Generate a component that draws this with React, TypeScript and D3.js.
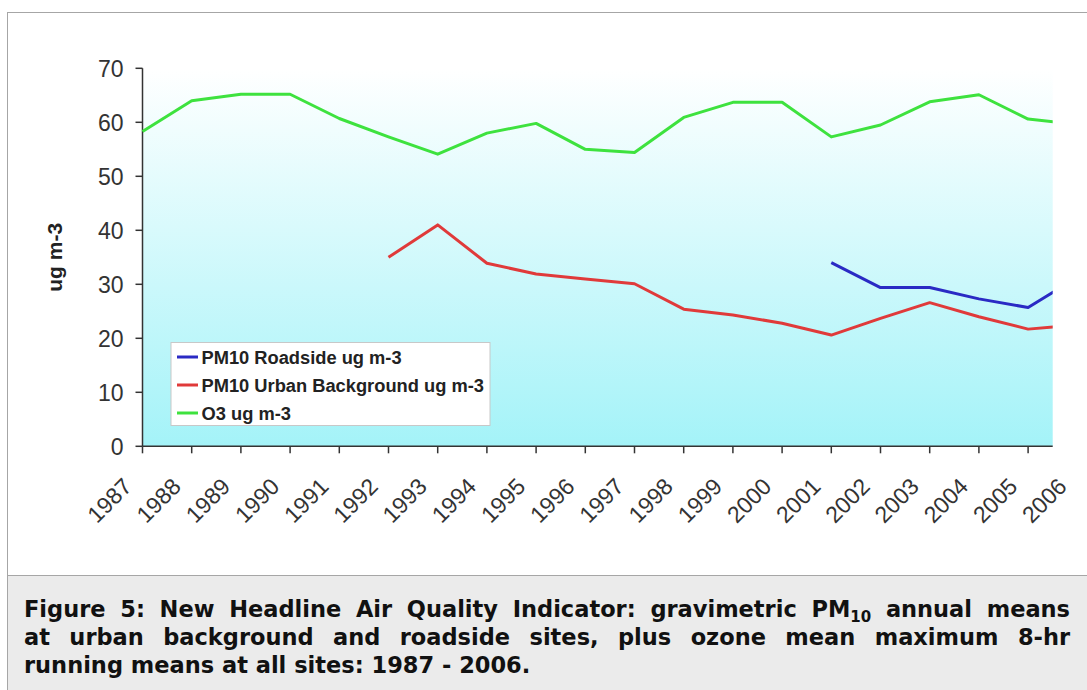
import React, { useEffect, useRef } from 'react';
import * as d3 from 'd3';

// Chart data
const YEARS = [1987, 1988, 1989, 1990, 1991, 1992, 1993, 1994, 1995, 1996, 1997, 1998, 1999, 2000, 2001, 2002, 2003, 2004, 2005, 2006];
const PM10_ROADSIDE: (number | null)[] = [null, null, null, null, null, null, null, null, null, null, null, null, null, null, 34.0, 29.4, 29.4, 27.3, 25.7, 31.3];
const PM10_URBAN: (number | null)[] = [null, null, null, null, null, 35.0, 41.0, 33.9, 31.9, 31.0, 30.1, 25.4, 24.3, 22.8, 20.6, 23.7, 26.6, 24.0, 21.7, 22.5];
const O3: (number | null)[] = [58.3, 64.0, 65.2, 65.2, 60.7, 57.3, 54.1, 58.0, 59.8, 55.0, 54.4, 60.9, 63.7, 63.7, 57.3, 59.5, 63.8, 65.1, 60.6, 59.6];
const Y_TICKS = [0, 10, 20, 30, 40, 50, 60, 70];

const SERIES = [
  { name: 'PM10 Roadside ug m-3', values: PM10_ROADSIDE, color: '#2a2ac4' },
  { name: 'PM10 Urban Background ug m-3', values: PM10_URBAN, color: '#e03a3a' },
  { name: 'O3 ug m-3', values: O3, color: '#3ee23e' },
];

const Y_LABEL = 'ug m-3';

// caption, one entry per line; "sub" parts are subscripts
const CAPTION = [
  [{ t: 'Figure 5: New Headline Air Quality Indicator: gravimetric PM' }, { t: '10', sub: true }, { t: ' annual means' }],
  [{ t: 'at urban background and roadside sites, plus ozone mean maximum 8-hr' }],
  [{ t: 'running means at all sites: 1987 - 2006.' }],
];

const W = 1087;
const H = 690;
const AXIS_FONT = '"Liberation Sans", Arial, sans-serif';
const CAPTION_FONT = '"DejaVu Sans", Verdana, sans-serif';
const CAP_LEFT = 24;
const CAP_RIGHT = 1070;

const App: React.FC = () => {
  const captionRef = useRef<SVGGElement>(null);

  const x = d3.scaleLinear().domain([1987, 2006]).range([142.5, 1077.3]);
  const y = d3.scaleLinear().domain([0, 70]).range([446.3, 68.3]);
  const clipRight = x(2005.5);

  const line = d3.line<number | null>()
    .defined(d => d != null)
    .x((_, i) => x(YEARS[i]))
    .y(d => y(d as number));

  // justify every caption line except the last one
  useEffect(() => {
    if (!captionRef.current) return;
    d3.select(captionRef.current).selectAll<SVGTextElement, unknown>('text.justify').each(function () {
      this.setAttribute('word-spacing', '0');
      const len = this.getComputedTextLength();
      const spaces = (this.textContent || '').split(' ').length - 1;
      if (spaces > 0) {
        this.setAttribute('word-spacing', String(Math.max(0, (CAP_RIGHT - CAP_LEFT - len) / spaces)));
      }
    });
  }, []);

  return (
    <svg width={W} height={H} style={{ position: 'absolute', left: 0, top: 0, background: '#fff' }}>
      <defs>
        <linearGradient id="plotBg" x1="0" y1="0" x2="0" y2="1">
          <stop offset="0" stopColor="#ffffff" />
          <stop offset="1" stopColor="#a4f3f8" />
        </linearGradient>
        <clipPath id="plotClip">
          <rect x={0} y={0} width={clipRight} height={H} />
        </clipPath>
      </defs>

      {/* outer frame */}
      <rect x={7.5} y={12.5} width={W + 10} height={H} fill="#fff" stroke="#a6a6a6" />
      <rect x={7.5} y={575.5} width={W + 10} height={H} fill="#ebebeb" stroke="#a6a6a6" />

      {/* plot area */}
      <rect x={x(1987)} y={y(70)} width={clipRight - x(1987)} height={y(0) - y(70)} fill="url(#plotBg)" />

      {/* y axis */}
      <g fontFamily={AXIS_FONT} fontSize={23} fill="#333">
        <line x1={x(1987)} x2={x(1987)} y1={y(70)} y2={y(0)} stroke="#333" strokeWidth={1.5} />
        {Y_TICKS.map(t => (
          <g key={t}>
            <line x1={x(1987) - 7} x2={x(1987)} y1={y(t)} y2={y(t)} stroke="#333" strokeWidth={1.5} />
            <text x={x(1987) - 19} y={y(t)} dy="0.36em" textAnchor="end">{t}</text>
          </g>
        ))}
      </g>
      <text
        transform={`translate(62,${(y(0) + y(70)) / 2}) rotate(-90)`}
        textAnchor="middle"
        fontFamily={AXIS_FONT}
        fontWeight="bold"
        fontSize={21}
        fill="#222"
      >
        {Y_LABEL}
      </text>

      {/* x axis */}
      <g clipPath="url(#plotClip)">
        <line x1={x(1987)} x2={x(2006)} y1={y(0)} y2={y(0)} stroke="#333" strokeWidth={1.5} />
        {YEARS.map(yr => (
          <line key={yr} x1={x(yr)} x2={x(yr)} y1={y(0)} y2={y(0) + 7} stroke="#333" strokeWidth={1.5} />
        ))}
      </g>
      <g fontFamily={AXIS_FONT} fontSize={23} fill="#333">
        {YEARS.map(yr => (
          <text
            key={yr}
            transform={`translate(${x(yr) - 21},${y(0) + 30}) rotate(-45)`}
            textAnchor="end"
            dy="0.72em"
          >
            {yr}
          </text>
        ))}
      </g>

      {/* series */}
      <g clipPath="url(#plotClip)">
        {SERIES.map(s => (
          <path key={s.name} d={line(s.values) || ''} fill="none" stroke={s.color} strokeWidth={3} strokeLinejoin="round" />
        ))}
      </g>

      {/* legend */}
      <g>
        <rect x={171} y={342.5} width={319} height={83} fill="#fff" stroke="#c8c8c8" />
        {SERIES.map((s, i) => (
          <g key={s.name} transform={`translate(177,${357 + i * 28})`}>
            <line x1={0} x2={21} y1={0} y2={0} stroke={s.color} strokeWidth={3} />
            <text x={24.5} y={0} dy="0.36em" fontFamily={AXIS_FONT} fontWeight="bold" fontSize={18.3} fill="#222">
              {s.name}
            </text>
          </g>
        ))}
      </g>

      {/* caption */}
      <g ref={captionRef} fontFamily={CAPTION_FONT} fontWeight="bold" fontSize={22.5} fill="#111">
        {CAPTION.map((parts, i) => (
          <text key={i} className={i < CAPTION.length - 1 ? 'justify' : ''} x={CAP_LEFT} y={617 + i * 28}>
            {parts.map((p, j) => {
              if ('sub' in p && p.sub) {
                return <tspan key={j} fontSize={15} dy={5}>{p.t}</tspan>;
              }
              const prevSub = j > 0 && 'sub' in parts[j - 1] && (parts[j - 1] as any).sub;
              return <tspan key={j} dy={prevSub ? -5 : 0}>{p.t}</tspan>;
            })}
          </text>
        ))}
      </g>
    </svg>
  );
};

export default App;
